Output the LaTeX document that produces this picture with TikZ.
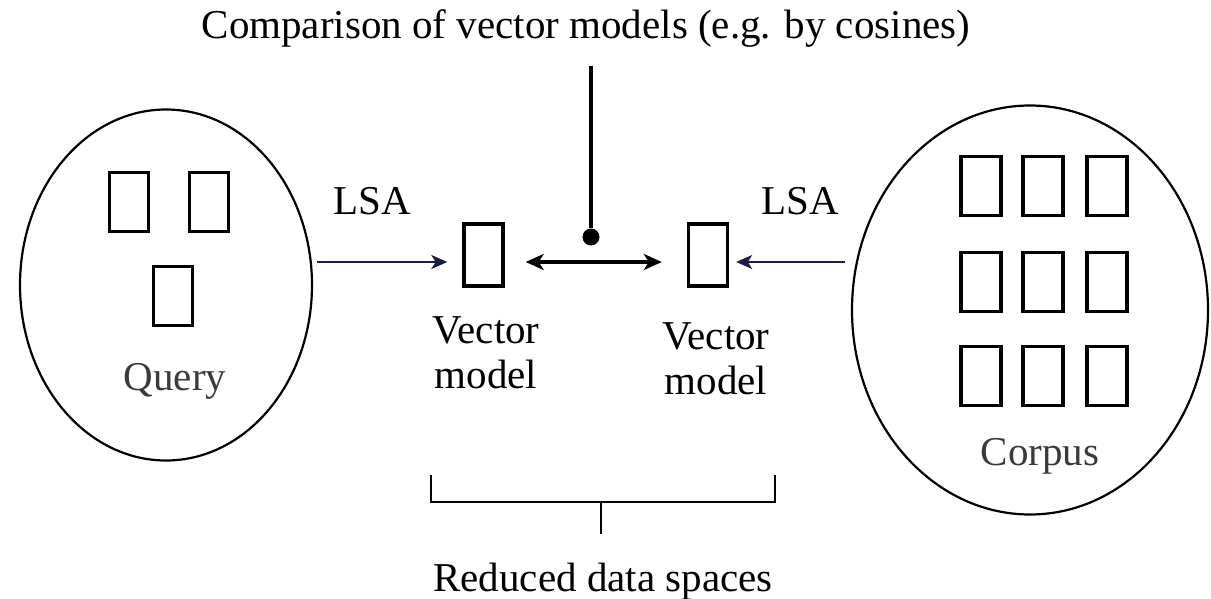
\documentclass[tikz,border=0pt]{standalone}
\usepackage{fontspec}
\setmainfont{Liberation Serif}
\usetikzlibrary{shapes.geometric, arrows.meta, positioning}
\usepackage{xcolor}
\definecolor{lsanavy}{HTML}{1C1C4A}
\definecolor{labelgray}{HTML}{3A3A3A}

\begin{document}
\begin{tikzpicture}[x=0.5pt, y=-0.5pt,
    every node/.style={font=\fontsize{20.5}{22.5}\selectfont, align=center},
    doc/.style={draw, line width=1.7pt, minimum width=19.5pt, minimum height=29.5pt, inner sep=0pt},
    space/.style={draw, ellipse, line width=1.1pt, inner sep=0pt},
    lsa/.style={draw=lsanavy, line width=1pt, -{Stealth[length=8pt, width=7pt, inset=2.2pt]}},
    cmp/.style={line width=1.7pt, {Stealth[length=9pt, width=8pt, inset=2.5pt]}-{Stealth[length=9pt, width=8pt, inset=2.5pt]}},
    bracket/.style={line width=1.4pt},
]
\useasboundingbox (0,0) rectangle (1211,599);

% query and corpus spaces
\node[space, minimum width=146pt, minimum height=175.5pt] (query) at (166,285) {};
\node[space, minimum width=178pt, minimum height=204.5pt] (corpus) at (1030,310) {};

\node[doc] (q1) at (129,202) {};
\node[doc] (q2) at (209,202) {};
\node[doc] (q3) at (173,296) {};
\node[text=labelgray, anchor=base] (querylbl) at (175,390) {Query};

\foreach \col/\x in {1/981, 2/1043, 3/1107}
  \foreach \row/\y in {1/186, 2/282, 3/376}
    \node[doc, minimum width=20pt] (c\row\col) at (\x,\y) {};
\node[text=labelgray, anchor=base] (corpuslbl) at (1040,465) {Corpus};

% reduced vector models
\node[doc, minimum height=31pt] (vecL) at (483.5,255) {};
\node[doc, minimum height=31pt] (vecR) at (708,255) {};
\node (vecLlbl) at (486,353) {Vector\\model};
\node (vecRlbl) at (716,359) {Vector\\model};

\node[anchor=base] (lsaL) at (372,214) {LSA};
\node[anchor=base] (lsaR) at (800,214) {LSA};

\draw[lsa] ([xshift=2pt,yshift=-3.5pt]query.east |- vecL.west) -- ([xshift=-7.5pt,yshift=-3.5pt]vecL.west);
\draw[lsa] ([xshift=-3pt,yshift=-3.5pt]corpus.west |- vecR.east) -- ([xshift=3.5pt,yshift=-3.5pt]vecR.east);

% comparison
\node[anchor=base] (cmptxt) at (586,39) {Comparison of vector models (e.g. by cosines)};
\node[circle, fill, inner sep=0pt, minimum size=8.5pt] (dot) at (591,237) {};
\draw[line width=1.7pt] ([yshift=-5.5pt]cmptxt.south -| dot) -- (dot);
\draw[cmp] ([xshift=10.5pt,yshift=-3.5pt]vecL.east) -- ([xshift=-12.5pt,yshift=-3.5pt]vecR.west);

% reduced data spaces
\coordinate (brL) at (431,475);
\coordinate (brR) at (775,475);
\coordinate (tick) at (601,502);
\draw[bracket] (brL) -- ++(0,27) -| (brR);
\draw[bracket] (tick) -- ++(0,32);
\node[anchor=base] (reduced) at (603,591) {Reduced data spaces};

\end{tikzpicture}
\end{document}
